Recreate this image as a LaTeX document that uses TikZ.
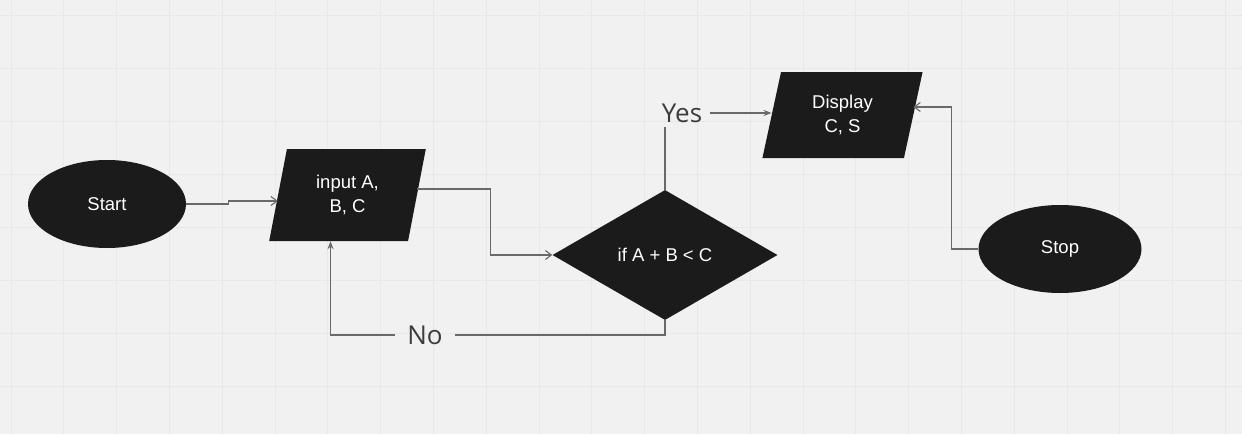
\documentclass[tikz,border=0pt]{standalone}
\usepackage{fontspec}
\setmainfont{Liberation Sans}
\newfontfamily\labelfont{Open Sans}
\usepackage{tikz}
\usetikzlibrary{shapes.geometric, arrows.meta, positioning}
\definecolor{boardbg}{RGB}{241,241,241}
\definecolor{boardgrid}{RGB}{232,232,232}
\definecolor{shapefill}{RGB}{27,27,27}
\definecolor{linkgray}{RGB}{105,105,105}
\definecolor{labelgray}{RGB}{60,60,60}
\tikzset{
  %% ---- boxes ----
  terminal/.style = {ellipse, fill=shapefill, text=white, inner sep=0pt,
                     minimum width=158pt, minimum height=88pt,
                     font=\fontsize{18.5}{24}\selectfont},
  iobox/.style    = {trapezium, trapezium left angle=77, trapezium right angle=103,
                     trapezium stretches=true,
                     fill=shapefill, text=white, inner sep=0pt, align=center,
                     minimum width=#1, font=\fontsize{18.5}{24}\selectfont},
  iobox/.default  = 157pt,
  decision/.style = {diamond, fill=shapefill, text=white, inner sep=0pt,
                     minimum width=225pt, minimum height=130pt,
                     font=\fontsize{18.5}{24}\selectfont},
  branch/.style   = {text=labelgray, inner sep=0pt,
                     font=\labelfont\fontsize{26}{30}\selectfont},
  %% ---- arrows ----
  link/.style     = {line width=1.1pt, color=linkgray},
  arrow/.style    = {link, -{Straight Barb[length=6pt, width=9pt]}},
  solidarrow/.style = {link, -{Stealth[length=8pt, width=6pt]}},
}
\begin{document}
\begin{tikzpicture}[x=1pt, y=-1pt]
% board
\useasboundingbox (0,0) rectangle (1242,434);
\fill[boardbg] (0,0) rectangle (1242,434);
\foreach \i in {0,...,23}
  \draw[boardgrid, line width=1pt] (11+52.8*\i,0) -- (11+52.8*\i,434);
\foreach \j in {0,...,7}
  \draw[boardgrid, line width=1pt] (0,15+53*\j) -- (1242,15+53*\j);

\node[terminal]                     (start)   at (107,204)   {Start};
\node[iobox, minimum height=92pt]   (input)   at (347.5,195) {input A,\\B, C};
\node[decision]                     (cond)    at (665,255)   {if A + B < C};
\node[iobox=161pt, minimum height=86pt] (display) at (842.5,115) {Display\\C, S};
\node[terminal, minimum width=163pt] (stop)   at (1060,249)  {Stop};
\node[branch]                       (yes)     at (682,113)   {Yes};
\node[branch]                       (no)      at (425,335)   {No};

\draw[arrow] (start.east) -- ++(42,0) |- ([yshift=-6pt]input.west);
\draw[arrow] ([yshift=6pt]input.east) -- ++(73,0) |- (cond.west);
\draw[link]  (cond.north) -- ([yshift=-4pt]cond.north |- yes.south);
\draw[solidarrow] ([xshift=8pt]yes.east) -- (yes.east -| display.west);
\draw[link]  (cond.south) |- ([xshift=12pt]no.east);
\draw[solidarrow] ([xshift=-12pt]no.west) -| ([xshift=-17pt]input.south);
\draw[arrow] (stop.west) -- ++(-27,0) |- ([yshift=8pt]display.east);
\end{tikzpicture}
\end{document}
